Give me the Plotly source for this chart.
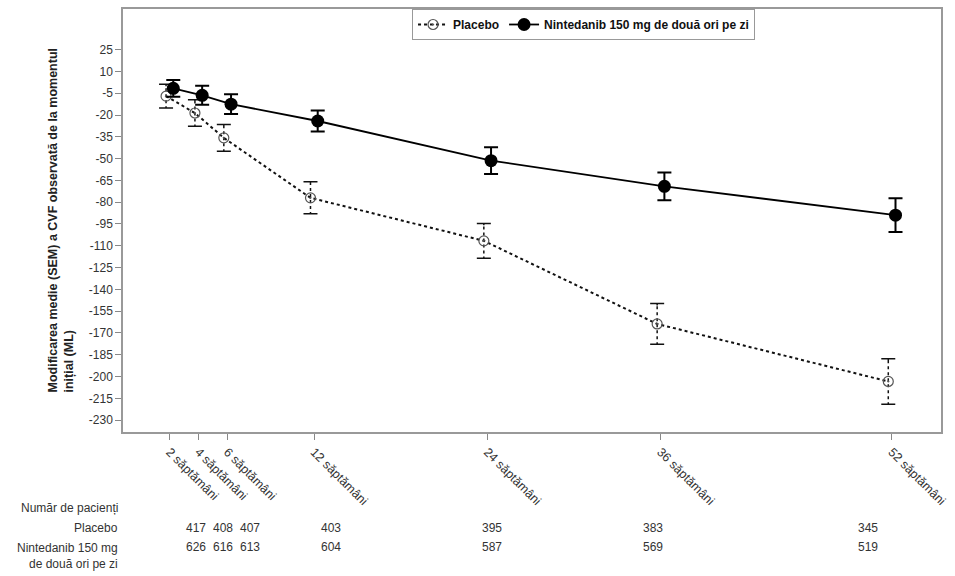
import plotly.graph_objects as go

# ---- data ----
weeks = [2, 4, 6, 12, 24, 36, 52]
week_labels = ["2 săptămâni", "4 săptămâni", "6 săptămâni", "12 săptămâni",
               "24 săptămâni", "36 săptămâni", "52 săptămâni"]
placebo_mean = [-7.0, -18.6, -35.7, -77.0, -106.6, -163.8, -203.4]
placebo_sem = [8.2, 9.2, 9.2, 11.0, 12.0, 14.0, 15.7]
ninte_mean = [-1.6, -6.4, -12.5, -24.1, -51.4, -69.1, -88.9]
ninte_sem = [5.8, 6.5, 6.8, 7.2, 9.2, 9.6, 11.6]
placebo_n = [417, 408, 407, 403, 395, 383, 345]
ninte_n = [626, 616, 613, 604, 587, 569, 519]
y_ticks = list(range(25, -231, -15))
y_tick_labels = [str(v) for v in y_ticks]
offset = 0.25  # horizontal dodge between groups (weeks)

FONT = "Liberation Sans, Arial, sans-serif"
xp = [w - offset for w in weeks]
xn = [w + offset for w in weeks]

fig = go.Figure()

# placebo error bars (caps + vertical)
fig.add_trace(go.Scatter(
    x=xp, y=placebo_mean, mode="markers",
    marker=dict(size=1, color="rgba(0,0,0,0)"),
    error_y=dict(type="data", array=placebo_sem, color="#111", thickness=1.5, width=7),
    showlegend=False, hoverinfo="skip"))

# white dashed overlay to make vertical placebo error bars look dashed
ox, oy = [], []
for x, m, e in zip(xp, placebo_mean, placebo_sem):
    ox += [x, x, None]
    oy += [m - e + 1.3, m + e - 1.3, None]
fig.add_trace(go.Scatter(
    x=ox, y=oy, mode="lines",
    line=dict(color="white", width=3, dash="3px,3px"),
    showlegend=False, hoverinfo="skip"))

# placebo line + markers
fig.add_trace(go.Scatter(
    x=xp, y=placebo_mean, mode="lines+markers", name="Placebo",
    line=dict(color="#111", width=2, dash="3px,3px"),
    marker=dict(symbol="circle-open-dot", size=10, color="#555",
                line=dict(width=1.2, color="#555"))))

# nintedanib
fig.add_trace(go.Scatter(
    x=xn, y=ninte_mean, mode="lines+markers",
    name="Nintedanib 150 mg de două ori pe zi",
    line=dict(color="#000", width=1.8),
    marker=dict(symbol="circle", size=13, color="#000"),
    error_y=dict(type="data", array=ninte_sem, color="#000", thickness=2, width=7)))

# invisible axis for number-at-risk table
fig.add_trace(go.Scatter(x=[weeks[0]], y=[y_ticks[0]], xaxis="x2", mode="markers",
                         marker=dict(size=1, color="rgba(0,0,0,0)"),
                         showlegend=False, hoverinfo="skip"))

ann = []
for w, a, b in zip(weeks, placebo_n, ninte_n):
    ann.append(dict(x=w, xref="x2", y=-0.228, yref="paper", text=str(a),
                    showarrow=False, xanchor="center", yanchor="middle",
                    font=dict(family=FONT, size=12, color="#333")))
    ann.append(dict(x=w, xref="x2", y=-0.273, yref="paper", text=str(b),
                    showarrow=False, xanchor="center", yanchor="middle",
                    font=dict(family=FONT, size=12, color="#333")))

lab_font = dict(family=FONT, size=12, color="#333")
ann += [
    dict(x=0, xref="paper", xshift=-3, y=-0.179, yref="paper", text="Număr de pacienți",
         showarrow=False, xanchor="right", yanchor="middle", font=lab_font),
    dict(x=0, xref="paper", xshift=-3, y=-0.228, yref="paper", text="Placebo",
         showarrow=False, xanchor="right", yanchor="middle", font=lab_font),
    dict(x=0, xref="paper", xshift=-3, y=-0.293, yref="paper",
         text="Nintedanib 150 mg<br>de două ori pe zi", align="right",
         showarrow=False, xanchor="right", yanchor="middle", font=lab_font),
    dict(x=-0.077, xref="paper", y=0.5, yref="paper",
         text="<b>Modificarea medie (SEM) a CVF observată de la momentul<br>inițial (ML)</b>",
         textangle=-90, align="left", showarrow=False, xanchor="center", yanchor="middle",
         font=dict(family=FONT, size=12.5, color="#222")),
]

fig.update_layout(
    width=955, height=576,
    margin=dict(l=123, r=8, t=7, b=144),
    plot_bgcolor="white", paper_bgcolor="white",
    font=dict(family=FONT, size=12, color="#333"),
    xaxis=dict(range=[-1.23, 55.4], tickvals=weeks, ticktext=week_labels,
               tickangle=45, ticks="outside", ticklen=6, tickcolor="#888",
               showline=True, linecolor="#999", linewidth=1.5, mirror=True,
               showgrid=False, zeroline=False,
               tickfont=dict(family=FONT, size=12.5, color="#333")),
    xaxis2=dict(range=[-3.46, 57.44], overlaying="x", visible=False),
    yaxis=dict(range=[-238.2, 53], tickvals=y_ticks, ticktext=y_tick_labels,
               ticks="outside", ticklen=6, tickcolor="#888",
               showline=True, linecolor="#999", linewidth=1.5, mirror=True,
               showgrid=False, zeroline=False,
               tickfont=dict(family=FONT, size=12, color="#333")),
    legend=dict(orientation="h", x=0.563, xanchor="center", y=1, yanchor="top",
                bordercolor="#999", borderwidth=1, bgcolor="white",
                font=dict(family=FONT, size=12, color="#111", weight="bold"),
                itemwidth=30, tracegroupgap=0),
    annotations=ann,
)

fig.write_html("out.html")
